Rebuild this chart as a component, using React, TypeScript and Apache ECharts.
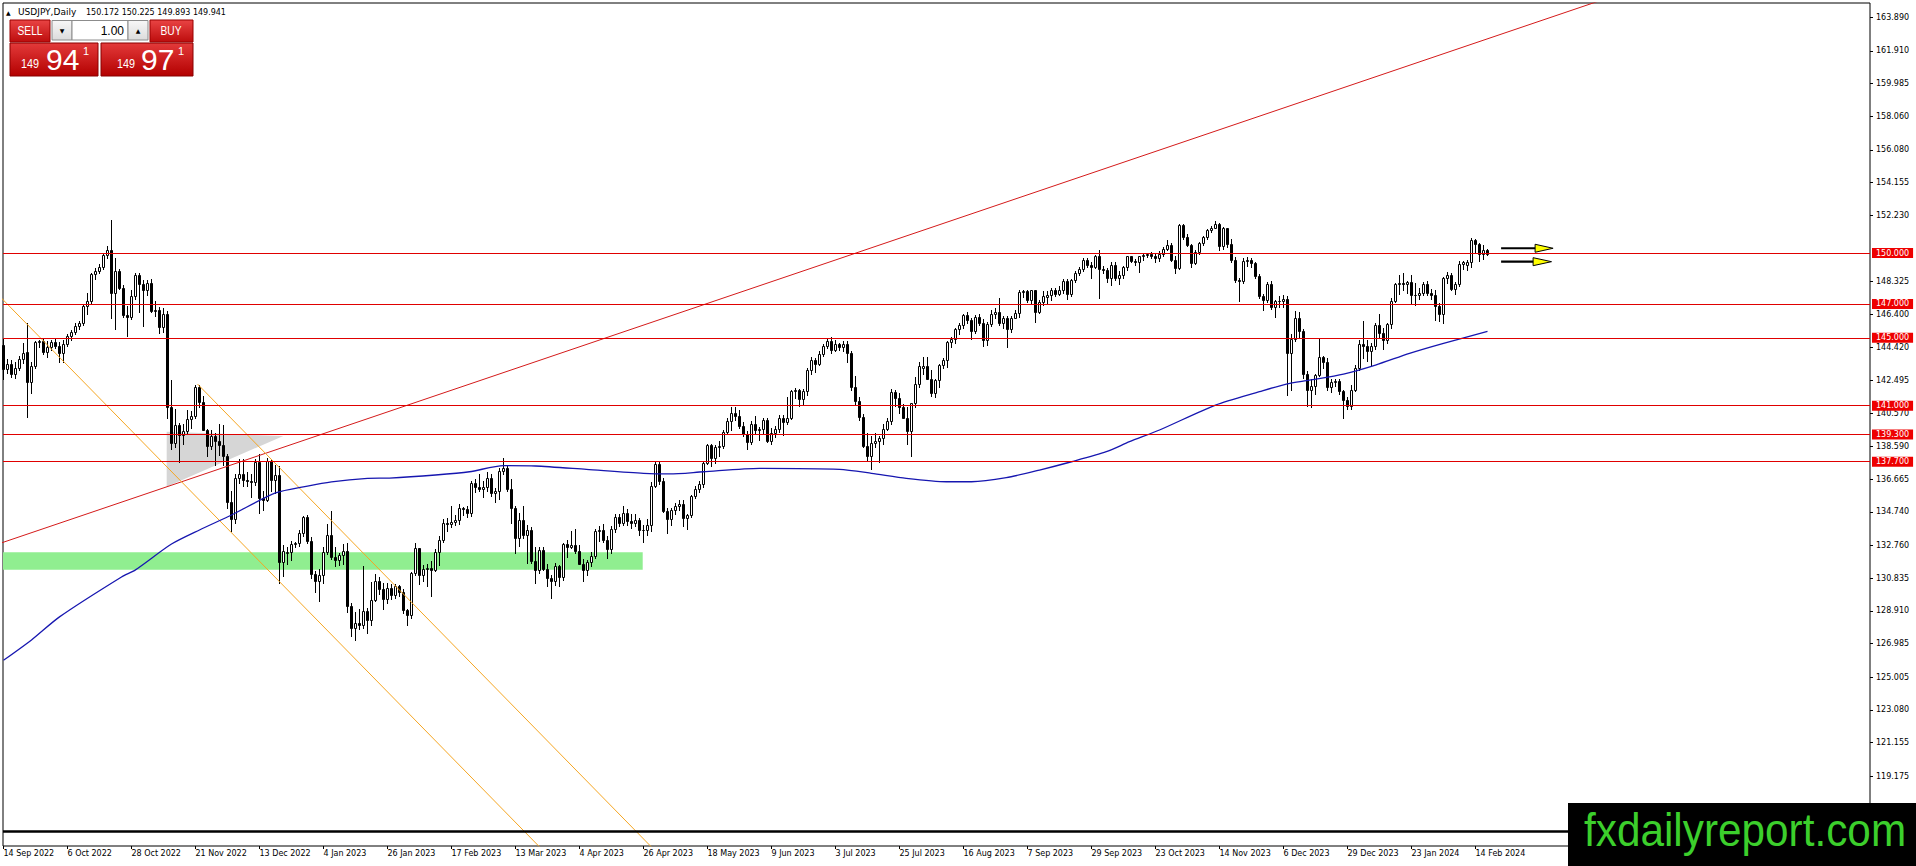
import React, { useEffect, useRef } from "react";
import * as echarts from "echarts";

// ---------- texts ----------
const symbolTitle = "USDJPY,Daily";
const lastQuote = ["150.172", "150.225", "149.893", "149.941"];
const lotSize = "1.00";
const sellQuote = ["149", "94", "1"];
const buyQuote = ["149", "97", "1"];
const watermark = "fxdailyreport.com";

// ---------- axes ----------
const dateLabels = [
  "14 Sep 2022", "6 Oct 2022", "28 Oct 2022", "21 Nov 2022", "13 Dec 2022", "4 Jan 2023",
  "26 Jan 2023", "17 Feb 2023", "13 Mar 2023", "4 Apr 2023", "26 Apr 2023", "18 May 2023",
  "9 Jun 2023", "3 Jul 2023", "25 Jul 2023", "16 Aug 2023", "7 Sep 2023", "29 Sep 2023",
  "23 Oct 2023", "14 Nov 2023", "6 Dec 2023", "29 Dec 2023", "23 Jan 2024", "14 Feb 2024",
];
const labelStep = 16; // bars between date labels
const priceTicks = [
  163.89, 161.91, 159.985, 158.06, 156.08, 154.155, 152.23, 148.325, 146.4, 144.42,
  142.495, 140.57, 138.59, 136.665, 134.74, 132.76, 130.835, 128.91, 126.985, 125.005,
  123.08, 121.155, 119.175,
];
const xRange = [-0.125, 466.625];
const yRange = [115.057, 164.733];

// ---------- horizontal levels ----------
const levelPrices = [150, 147, 145, 141, 139.3, 137.7];
const baseLinePrice = 115.9;

// ---------- daily candles [open, high, low, close], 14 Sep 2022 .. 19 Feb 2024 ----------
const candles: number[][] = [
  [144.60,144.95,142.55,143.15],[143.15,143.75,142.95,143.45],[143.45,143.70,142.70,142.90],
  [142.90,143.55,142.65,143.20],[143.20,143.95,143.10,143.75],[143.75,144.70,143.50,144.10],
  [144.15,145.90,140.35,142.40],[142.40,143.55,141.75,143.35],[143.35,144.80,143.25,144.75],
  [144.75,144.90,144.45,144.80],[144.80,144.95,144.05,144.15],[144.15,144.80,143.85,144.45],
  [144.45,144.90,144.30,144.75],
  [144.75,145.00,144.40,144.55],[144.55,144.75,143.55,144.10],[144.10,144.90,143.60,144.65],
  [144.65,145.25,144.50,145.10],[145.10,145.45,144.90,145.35],[145.35,145.90,145.25,145.70],
  [145.70,146.00,145.55,145.85],[145.85,146.95,145.75,146.85],[146.85,147.65,146.40,147.20],
  [147.20,148.85,147.05,148.75],[148.75,149.10,148.45,148.95],[148.95,149.35,148.85,149.20],
  [149.20,149.95,149.05,149.90],[149.90,150.40,149.70,150.15],
  [150.15,151.94,146.20,147.65],[147.65,149.70,145.55,148.95],[148.95,149.05,147.90,147.95],
  [147.95,148.10,146.25,146.35],[146.35,146.85,145.10,146.25],[146.25,147.85,146.10,147.45],
  [147.45,148.85,147.30,148.70],[148.70,148.80,146.55,148.20],[148.20,148.40,145.70,147.85],
  [147.85,148.40,147.50,148.25],[148.25,148.45,146.55,146.60],[146.60,147.20,146.30,146.65],
  [146.65,146.80,145.30,145.65],[145.65,146.75,145.35,146.40],
  [146.40,146.60,140.25,140.95],[140.95,142.50,138.45,138.80],[138.80,140.80,138.55,139.85],
  [139.85,140.00,137.68,139.30],[139.30,139.90,138.75,139.50],[139.50,140.75,139.40,140.20],
  [140.20,140.70,139.70,140.40],[140.40,142.25,140.30,142.10],[142.10,142.25,140.90,141.25],
  [141.25,141.60,139.55,139.60],[139.60,139.65,138.05,138.60],[138.60,139.60,138.45,139.20],
  [139.20,139.40,137.50,138.90],[138.90,139.90,138.10,138.70],[138.70,139.85,137.50,138.05],
  [138.05,138.15,135.00,135.30],[135.30,135.95,133.62,134.30],
  [134.30,136.95,134.10,136.75],[136.75,137.85,136.45,137.00],[137.00,137.85,136.25,136.65],
  [136.65,137.10,136.30,136.55],[136.55,136.95,135.65,136.50],[136.50,137.85,136.35,137.70],
  [137.70,138.15,134.70,135.55],[135.55,135.95,134.85,135.45],[135.45,137.90,135.40,137.75],
  [137.75,137.85,135.95,136.60],[136.60,137.50,135.85,136.90],[136.90,137.45,130.58,131.80],
  [131.80,132.80,130.95,132.45],[132.30,132.70,131.65,132.40],[132.40,133.05,131.90,132.85],
  [132.85,133.00,132.70,132.90],[132.90,133.65,132.75,133.50],[133.50,134.50,133.30,134.45],
  [134.45,134.55,132.90,133.05],[133.05,133.25,130.85,131.10],
  [131.10,131.25,130.00,130.70],[130.70,131.40,129.52,131.00],[131.00,132.70,130.55,132.40],
  [132.40,134.05,132.25,133.40],[133.40,134.77,131.95,132.10],[132.10,132.65,131.55,131.90],
  [131.90,132.35,131.60,132.20],[132.20,132.85,131.65,132.45],[132.45,132.90,128.85,129.20],
  [129.20,129.40,127.45,127.90],[127.90,128.85,127.22,128.20],[128.20,129.05,127.85,128.10],
  [128.10,131.58,127.90,128.90],[128.90,129.10,127.60,128.40],
  [128.40,130.60,128.10,129.55],[129.55,131.10,129.50,130.65],[130.65,130.90,129.90,130.20],
  [130.20,130.55,129.00,129.60],[129.60,130.55,129.35,130.25],[130.25,130.50,129.60,129.85],
  [129.85,130.50,129.65,130.40],[130.40,130.45,129.80,130.05],[130.05,130.20,128.80,128.95],
  [128.95,129.05,128.08,128.65],[128.65,131.20,128.50,131.15],[131.15,132.90,131.00,132.60],
  [132.60,132.60,130.50,131.05],[131.05,131.60,130.70,131.40],[131.40,131.70,130.40,131.45],
  [131.45,131.85,129.80,131.35],[131.35,132.55,131.25,132.40],[132.40,133.30,131.60,133.10],
  [133.10,134.35,132.95,134.10],
  [134.10,134.40,133.60,134.05],[134.05,135.10,133.85,134.15],[134.15,134.55,133.95,134.25],
  [134.25,135.20,134.05,134.95],[134.95,135.05,134.55,134.90],[134.90,135.10,134.45,134.70],
  [134.70,136.55,134.50,136.45],[136.45,136.70,135.90,136.20],[136.20,136.95,135.95,136.10],
  [136.10,136.55,135.65,136.20],[136.20,137.10,135.95,136.75],[136.75,136.95,135.70,135.85],
  [135.85,136.15,135.35,135.95],[135.95,137.35,135.50,137.15],[137.15,137.91,136.95,137.35],
  [137.35,137.45,135.95,136.10],[136.10,136.70,134.10,134.95],
  [134.95,135.10,132.30,133.20],[133.20,134.70,132.75,134.25],[134.25,135.10,133.20,133.40],
  [133.40,134.00,131.75,133.65],[133.65,133.85,131.75,131.85],[131.85,132.65,130.55,131.30],
  [131.30,132.65,131.15,132.50],[132.50,132.70,131.30,131.40],[131.40,131.70,130.40,130.85],
  [130.85,131.05,129.65,130.70],[130.70,131.75,130.45,131.55],[131.55,131.60,130.40,130.90],
  [130.90,132.90,130.75,132.85],[132.85,133.10,132.10,132.70],[132.70,133.60,132.60,132.80],
  [132.80,133.75,132.35,132.45],[132.45,132.80,131.65,131.70],[131.70,131.95,130.65,131.30],
  [131.30,131.90,131.00,131.80],[131.80,132.40,131.55,132.15],
  [132.15,133.75,132.05,133.60],[133.60,133.90,133.05,133.70],[133.70,134.05,132.95,133.10],
  [133.10,133.35,132.05,132.55],[132.55,133.90,132.30,133.75],[133.75,134.60,133.55,134.45],
  [134.45,134.65,133.90,134.10],[134.10,135.10,134.00,134.70],[134.70,134.90,133.95,134.20],
  [134.20,134.65,133.80,134.10],[134.10,134.60,133.90,134.25],[134.25,134.40,133.40,133.70],
  [133.70,133.95,133.00,133.65],[133.65,134.30,133.40,133.95],[133.95,136.50,133.60,136.30],
  [136.30,137.77,136.20,137.55],[137.55,137.75,136.40,136.55],[136.55,136.75,134.75,134.80],
  [134.80,135.00,133.50,134.30],[134.30,135.00,133.95,134.85],[134.85,135.25,134.60,135.10],
  [135.10,135.45,134.85,135.20],[135.20,135.45,133.90,134.40],[134.40,134.65,133.75,134.55],
  [134.55,135.75,134.45,135.70],[135.70,136.25,135.55,136.10],[136.10,136.55,135.90,136.40],
  [136.40,137.70,136.20,137.65],[137.65,138.75,137.55,138.70],[138.70,138.75,137.45,137.95],
  [137.95,138.70,137.65,138.55],[138.55,138.95,138.05,138.60],[138.60,139.55,138.50,139.45],
  [139.45,140.25,139.35,140.10],[140.10,140.90,139.55,140.60],[140.60,140.95,140.15,140.40],
  [140.40,140.75,139.70,139.80],[139.80,140.05,139.20,139.35],[139.35,139.50,138.45,138.85],
  [138.85,140.10,138.75,139.95],[139.95,140.40,139.40,139.60],[139.55,139.75,139.00,139.65],
  [139.65,140.25,139.35,140.15],[140.15,140.25,138.85,138.95],[138.95,139.70,138.75,139.40],
  [139.40,139.80,139.15,139.65],[139.65,140.45,139.45,140.25],[140.25,140.45,139.30,140.05],
  [140.05,141.50,139.90,140.30],[140.30,141.90,140.20,141.85],[141.85,142.05,141.45,141.95],
  [141.95,142.00,141.00,141.40],[141.40,142.00,141.10,141.85],[141.85,143.20,141.65,143.10],
  [143.10,143.85,142.90,143.70],[143.70,143.80,143.00,143.45],[143.45,144.20,143.40,144.05],
  [144.05,144.65,143.95,144.55],[144.55,144.97,144.40,144.80],[144.80,145.07,144.10,144.30],
  [144.30,144.90,144.20,144.65],[144.65,144.70,144.30,144.45],[144.45,144.80,144.20,144.65],
  [144.65,144.80,143.55,144.10],[144.10,144.20,141.95,142.10],[142.10,142.75,141.05,141.30],
  [141.30,141.50,140.15,140.35],[140.35,140.50,138.55,138.60],[138.60,139.40,137.80,138.05],
  [138.05,139.20,137.25,138.80],[138.80,139.40,138.55,138.95],[138.95,139.20,137.70,139.10],
  [139.10,139.90,138.75,139.65],[139.65,140.30,139.60,140.10],[140.10,142.00,139.95,141.80],
  [141.80,141.95,141.00,141.45],[141.45,141.75,140.60,140.90],[140.90,141.10,140.25,140.30],
  [140.30,140.95,138.75,139.50],[139.50,141.15,138.05,141.15],
  [141.15,142.70,140.95,142.30],[142.30,143.55,142.10,143.35],[143.25,143.85,142.85,143.35],
  [143.35,143.90,142.60,142.60],[142.60,143.10,141.55,141.75],[141.75,142.60,141.50,142.50],
  [142.50,143.45,142.10,143.40],[143.40,143.80,143.20,143.70],[143.70,144.80,143.30,144.75],
  [144.75,145.05,144.45,144.95],[144.95,145.60,144.70,145.55],[145.55,145.85,145.25,145.75],
  [145.75,146.40,145.60,146.35],[146.35,146.55,145.90,146.05],[146.05,146.15,144.95,145.40],
  [145.40,146.35,145.30,146.25],[146.25,146.40,145.75,145.90],[145.90,146.10,144.55,144.85],
  [144.85,145.95,144.60,145.80],[145.80,146.65,145.70,146.40],[146.40,146.75,146.20,146.55],
  [146.55,147.37,145.75,145.85],[145.85,146.30,145.60,146.20],[146.20,146.30,144.45,145.55],
  [145.55,146.30,145.35,146.20],[146.20,146.65,146.15,146.45],
  [146.45,147.80,146.25,147.70],[147.70,147.85,147.40,147.75],[147.75,147.85,147.10,147.25],
  [147.25,147.85,147.00,147.80],[147.80,147.85,145.91,146.55],[146.55,147.25,146.45,147.10],
  [147.10,147.75,146.95,147.45],[147.40,147.75,147.05,147.50],[147.50,147.95,147.25,147.85],
  [147.85,147.95,147.45,147.60],[147.60,148.05,147.55,147.85],[147.85,148.45,147.65,148.35],
  [148.35,148.45,147.30,147.60],[147.60,148.45,147.45,148.40],[148.40,148.95,148.30,148.85],
  [148.85,149.20,148.70,149.05],[149.05,149.70,148.95,149.60],[149.60,149.70,149.15,149.30],
  [149.30,149.50,148.55,149.20],[149.20,149.90,149.10,149.85],
  [149.85,150.17,147.35,149.05],[149.05,149.25,148.85,149.00],[149.00,149.10,148.30,148.50],
  [148.50,149.50,148.10,149.30],[149.30,149.45,148.40,148.50],[148.50,148.95,148.20,148.70],
  [148.70,149.25,148.50,149.15],[149.15,149.85,149.00,149.80],[149.80,149.85,149.45,149.55],
  [149.55,149.65,149.30,149.50],[149.50,149.85,148.90,149.80],[149.80,149.95,149.60,149.90],
  [149.90,150.00,149.75,149.95],[149.95,150.05,149.70,149.80],[149.80,150.00,149.45,149.70],
  [149.70,150.10,149.55,149.95],[149.95,150.35,149.80,150.25],[150.25,150.78,150.15,150.45],
  [150.45,150.60,149.55,149.60],[149.60,149.80,148.80,149.10],
  [149.10,151.70,149.05,151.65],[151.65,151.72,150.85,150.95],[150.95,151.10,150.40,150.45],
  [150.45,150.55,149.20,149.40],[149.40,150.15,149.35,150.05],[150.05,150.65,149.95,150.60],
  [150.60,151.00,150.45,150.95],[150.95,151.40,150.85,151.35],[151.35,151.60,151.25,151.50],
  [151.50,151.91,151.45,151.70],[151.70,151.75,150.15,150.40],[150.40,151.55,150.25,151.45],
  [151.45,151.50,150.35,150.55],[150.55,150.80,149.50,149.60],[149.60,149.75,148.30,148.40],
  [148.40,148.55,147.15,148.35],[148.35,149.70,148.25,149.55],[149.55,149.75,149.25,149.60],
  [149.60,149.70,149.20,149.40],[149.40,149.50,148.50,148.65],[148.65,148.75,147.35,147.45],
  [147.45,147.60,146.67,147.25],[147.25,148.30,147.10,148.20],[148.20,148.35,146.70,146.80],
  [146.80,147.25,146.25,147.20],[147.20,147.45,146.80,147.15],[147.15,147.50,146.80,147.30],
  [147.30,147.45,141.65,144.10],[144.10,145.20,141.90,144.95],[144.95,146.60,144.80,146.15],
  [146.15,146.55,145.00,145.40],[145.40,145.55,142.65,142.90],[142.90,143.05,140.97,141.90],
  [141.90,142.55,140.95,142.15],[142.15,142.90,141.70,142.80],[142.80,144.96,142.75,143.90],
  [143.90,143.95,143.20,143.60],[143.60,143.80,141.95,142.10],[142.10,142.55,141.80,142.40],
  [142.40,142.60,142.15,142.45],[142.45,142.60,141.70,141.85],[141.85,141.95,140.25,141.35],
  [141.35,141.50,140.80,141.00],
  [141.00,142.25,140.80,141.95],[141.95,143.40,141.85,143.25],[143.25,144.85,143.10,144.65],
  [144.65,145.98,143.80,144.55],[144.55,144.85,143.65,144.25],[144.25,144.70,143.40,144.55],
  [144.55,145.85,144.35,145.75],[145.75,146.40,145.00,145.30],[145.30,145.60,144.35,144.90],
  [144.90,145.90,144.70,145.80],[145.80,147.35,145.60,147.20],[147.20,148.25,147.10,148.15],
  [148.15,148.70,147.60,148.25],[148.25,148.80,147.80,148.20],[148.20,148.35,147.65,148.30],
  [148.30,148.70,146.98,147.50],[147.50,148.25,146.95,147.55],[147.55,147.95,147.30,147.65],
  [147.65,148.30,147.50,148.15],[148.15,148.35,147.55,147.65],[147.65,147.90,147.30,147.55],
  [147.55,147.85,146.05,146.90],[146.90,147.05,146.00,146.40],[146.40,148.60,145.90,148.55],
  [148.55,148.90,148.25,148.70],[148.70,148.80,147.80,147.90],[147.90,148.30,147.60,148.20],
  [148.20,149.55,148.05,149.35],[149.35,149.55,149.05,149.45],[149.30,149.60,149.00,149.45],
  [149.45,150.88,149.20,150.75],[150.75,150.85,150.05,150.55],[150.55,150.60,149.55,149.95],
  [149.95,150.45,149.65,150.20],[150.172,150.225,149.893,149.941],
];

// ---------- moving average (bar index, price) ----------
const movingAverage = [
  [0,126.0],[7,127.2],[14,128.56],[29.5,130.91],[33,131.33],[42,132.85],[49,133.68],[57,134.56],
  [68,135.86],[76,136.27],[82,136.52],[91,136.72],[96.5,136.74],[108,136.92],[116.5,137.11],
  [125,137.47],[133,137.45],[145.7,137.25],[160,137.02],[166.5,136.98],[175,137.11],[189,137.31],
  [209,137.25],[217,137.02],[225.7,136.72],[235.7,136.52],[242,136.52],[250.7,136.76],[259,137.21],
  [267,137.70],[275.7,138.29],[281.5,138.88],[289,139.57],[303,141.04],[314,141.83],[320.7,142.28],
  [326.5,142.51],[335,142.87],[343,143.40],[351.5,144.09],[360,144.68],[371,145.38],
];

// ---------- drawn objects (bar index, price) ----------
const redTrend = [[-2, 132.8], [420, 166.54]];
const orangeLower = [[-2, 147.7], [250, 87.12]];
const orangeUpper = [[48.5, 142.28], [250, 93.84]];
const greyTriangle = [[40.8, 139.47], [40.8, 136.23], [69.95, 139.22]];
const greenZone = [[-2, 132.36], [159.8, 131.34]];
// [shaft start, shaft end, tip, price]
const arrowMarks = [[374.4, 382.9, 387.4, 150.28], [374.4, 382.4, 387.0, 149.49]];

const AXIS_FONT = "DejaVu Sans";

function buildOption() {
  const tickIdx = dateLabels.map((_, k) => k * labelStep);
  const redFill = new echarts.graphic.LinearGradient(0, 0, 0, 1, [
    { offset: 0, color: "#e94444" },
    { offset: 1, color: "#bd0d0d" },
  ]);
  const bigFill = new echarts.graphic.LinearGradient(0, 0, 0, 1, [
    { offset: 0, color: "#e33a3a" },
    { offset: 1, color: "#b30000" },
  ]);
  const greyFill = new echarts.graphic.LinearGradient(0, 0, 0, 1, [
    { offset: 0, color: "#f7f7f7" },
    { offset: 1, color: "#dcdcdc" },
  ]);
  const txt = (x: number, y: number, text: string, size: number, color: string, align = "left", sx = 1, family = "Liberation Sans") => ({
    type: "text",
    x,
    y,
    scaleX: sx,
    z: 100,
    silent: true,
    style: { text, fill: color, fontSize: size, fontFamily: family, textAlign: align, textVerticalAlign: "middle" },
  });
  const box = (x: number, y: number, w: number, h: number, fill: any, stroke: string) => ({
    type: "rect",
    z: 99,
    silent: true,
    shape: { x, y, width: w, height: h },
    style: { fill, stroke, lineWidth: 1 },
  });

  const graphicEls: any[] = [
    txt(6, 12, "▲", 6, "#000", "left", 1, AXIS_FONT),
    txt(18, 12, symbolTitle, 9, "#000", "left", 1, AXIS_FONT),
    txt(86, 12, lastQuote.join(" "), 8, "#000", "left", 1, AXIS_FONT),
    box(10, 20, 40, 22, redFill, "#9a0000"),
    txt(30, 31, "SELL", 12, "#fff", "center", 0.85),
    box(52, 20.5, 20, 19.5, greyFill, "#8c8c8c"),
    txt(62, 30, "▼", 6, "#000", "center", 1, AXIS_FONT),
    box(72, 20.5, 56, 19.5, "#fff", "#8c8c8c"),
    txt(124, 30.5, lotSize, 12, "#000", "right"),
    box(128, 20.5, 20, 19.5, greyFill, "#8c8c8c"),
    txt(138, 30, "▲", 6, "#000", "center", 1, AXIS_FONT),
    box(150, 20, 43, 22, redFill, "#9a0000"),
    txt(171, 31, "BUY", 12, "#fff", "center", 0.85),
    box(10, 43, 88, 33, bigFill, "#8a0000"),
    box(101, 43, 92, 33, bigFill, "#8a0000"),
    txt(21, 64, sellQuote[0], 12, "#fff", "left", 0.9),
    txt(46, 59, sellQuote[1], 30, "#fff", "left"),
    txt(83, 51, sellQuote[2], 11, "#fff", "left"),
    txt(117, 64, buyQuote[0], 12, "#fff", "left", 0.9),
    txt(141, 59, buyQuote[1], 30, "#fff", "left"),
    txt(178, 51, buyQuote[2], 11, "#fff", "left"),
    { type: "rect", z: 120, silent: true, shape: { x: 1568, y: 803, width: 348, height: 63 }, style: { fill: "#000" } },
    {
      type: "text", x: 1584, y: 830, scaleX: 0.92, z: 121, silent: true,
      style: { text: watermark, fill: "#3ccf2c", fontSize: 46, fontFamily: "Liberation Sans", textAlign: "left", textVerticalAlign: "middle" },
    },
  ];

  const levelLines = levelPrices.map((v) => ({
    yAxis: v,
    lineStyle: { color: "#e00000", width: 1.2, type: "solid" },
    label: {
      show: true,
      position: "end",
      distance: 2,
      formatter: () => v.toFixed(3),
      color: "#fff",
      backgroundColor: "#ee0000",
      padding: [1, 4, 0, 4],
      fontSize: 8,
      fontFamily: AXIS_FONT,
      lineHeight: 9,
    },
  }));

  return {
    animation: false,
    backgroundColor: "#ffffff",
    grid: { left: 3, right: 46, top: 3, bottom: 20, show: true, borderColor: "#000", borderWidth: 1, backgroundColor: "transparent" },
    xAxis: {
      type: "value",
      min: xRange[0],
      max: xRange[1],
      axisLine: { show: false, onZero: false },
      splitLine: { show: false },
      axisTick: { show: true, customValues: tickIdx, length: 3, lineStyle: { color: "#000" } },
      axisLabel: {
        customValues: tickIdx,
        formatter: (v: number) => dateLabels[Math.round(v / labelStep)] ?? "",
        align: "left",
        margin: 3,
        color: "#000",
        fontSize: 8,
        fontFamily: AXIS_FONT,
      },
    },
    yAxis: {
      type: "value",
      position: "right",
      min: yRange[0],
      max: yRange[1],
      axisLine: { show: false, onZero: false },
      splitLine: { show: false },
      axisTick: { show: true, customValues: priceTicks, length: 3, lineStyle: { color: "#000" } },
      axisLabel: {
        customValues: priceTicks,
        formatter: (v: number) => v.toFixed(3),
        margin: 6,
        color: "#000",
        fontSize: 8,
        fontFamily: AXIS_FONT,
      },
    },
    series: [
      {
        type: "custom",
        name: "zone",
        silent: true,
        clip: true,
        z: 1,
        data: [[greenZone[0][0], greenZone[0][1]]],
        encode: { x: 0, y: 1 },
        renderItem: (_p: any, api: any) => {
          const a = api.coord(greenZone[0]);
          const b = api.coord(greenZone[1]);
          return { type: "rect", shape: { x: a[0], y: a[1], width: b[0] - a[0], height: b[1] - a[1] }, style: { fill: "#90ee90" } };
        },
      },
      {
        type: "custom",
        name: "triangle",
        silent: true,
        clip: true,
        z: 1,
        data: [[greyTriangle[0][0], greyTriangle[0][1]]],
        encode: { x: 0, y: 1 },
        renderItem: (_p: any, api: any) => ({
          type: "polygon",
          shape: { points: greyTriangle.map((pt) => api.coord(pt)) },
          style: { fill: "#d6d6d6" },
        }),
      },
      {
        type: "custom",
        name: "USDJPY",
        silent: true,
        z: 2,
        data: candles.map((c, i) => [i, c[0], c[1], c[2], c[3]]),
        encode: { x: 0, y: [1, 2, 3, 4] },
        renderItem: (_p: any, api: any) => {
          const i = api.value(0);
          const o = api.value(1), h = api.value(2), l = api.value(3), c = api.value(4);
          const pH = api.coord([i, h]);
          const pL = api.coord([i, l]);
          const pO = api.coord([i, o]);
          const pC = api.coord([i, c]);
          const x = Math.floor(pH[0]) + 0.5;
          const top = Math.round(Math.min(pO[1], pC[1])) + 0.5;
          const bot = Math.round(Math.max(pO[1], pC[1])) + 0.5;
          const bull = c >= o;
          return {
            type: "group",
            children: [
              { type: "line", shape: { x1: x, y1: Math.round(pH[1]), x2: x, y2: Math.round(pL[1]) + 1 }, style: { stroke: "#000", lineWidth: 1 } },
              { type: "rect", shape: { x: x - 1, y: top, width: 2, height: Math.max(bot - top, 0) }, style: { fill: bull ? "#fff" : "#000", stroke: "#000", lineWidth: 1 } },
            ],
          };
        },
      },
      {
        type: "line",
        name: "trend",
        silent: true,
        z: 3,
        data: redTrend,
        symbol: "none",
        lineStyle: { color: "#d41a1a", width: 1 },
        markLine: {
          silent: true,
          symbol: ["none", "none"],
          precision: 3,
          data: [
            ...levelLines,
            { yAxis: baseLinePrice, lineStyle: { color: "#000", width: 2.5, type: "solid" }, label: { show: false } },
          ],
        },
      },
      { type: "line", name: "chLow", silent: true, z: 3, data: orangeLower, symbol: "none", lineStyle: { color: "#f5a623", width: 1 } },
      { type: "line", name: "chUp", silent: true, z: 3, data: orangeUpper, symbol: "none", lineStyle: { color: "#f5a623", width: 1 } },
      {
        type: "line",
        name: "MA",
        silent: true,
        z: 3,
        data: movingAverage,
        symbol: "none",
        smooth: 0.25,
        lineStyle: { color: "#1616b0", width: 1.3 },
      },
      {
        type: "custom",
        name: "arrows",
        silent: true,
        z: 4,
        data: arrowMarks,
        encode: { x: [0, 1, 2], y: 3 },
        renderItem: (_p: any, api: any) => {
          const p = api.value(3);
          const a = api.coord([api.value(0), p]);
          const b = api.coord([api.value(1), p]);
          const t = api.coord([api.value(2), p]);
          return {
            type: "group",
            children: [
              { type: "line", shape: { x1: a[0], y1: a[1], x2: b[0] + 1, y2: b[1] }, style: { stroke: "#000", lineWidth: 2.2 } },
              { type: "polygon", shape: { points: [[b[0], b[1] - 4], [b[0], b[1] + 4], [t[0], t[1]]] }, style: { fill: "#ffff00", stroke: "#000", lineWidth: 1 } },
            ],
          };
        },
      },
    ],
    graphic: { elements: graphicEls },
  };
}

export default function App() {
  const ref = useRef<HTMLDivElement>(null);
  useEffect(() => {
    document.body.style.margin = "0";
    const chart = echarts.init(ref.current as HTMLDivElement, undefined, { renderer: "svg" });
    chart.setOption(buildOption() as any);
    return () => chart.dispose();
  }, []);
  return <div ref={ref} style={{ width: 1916, height: 866, background: "#fff" }} />;
}
